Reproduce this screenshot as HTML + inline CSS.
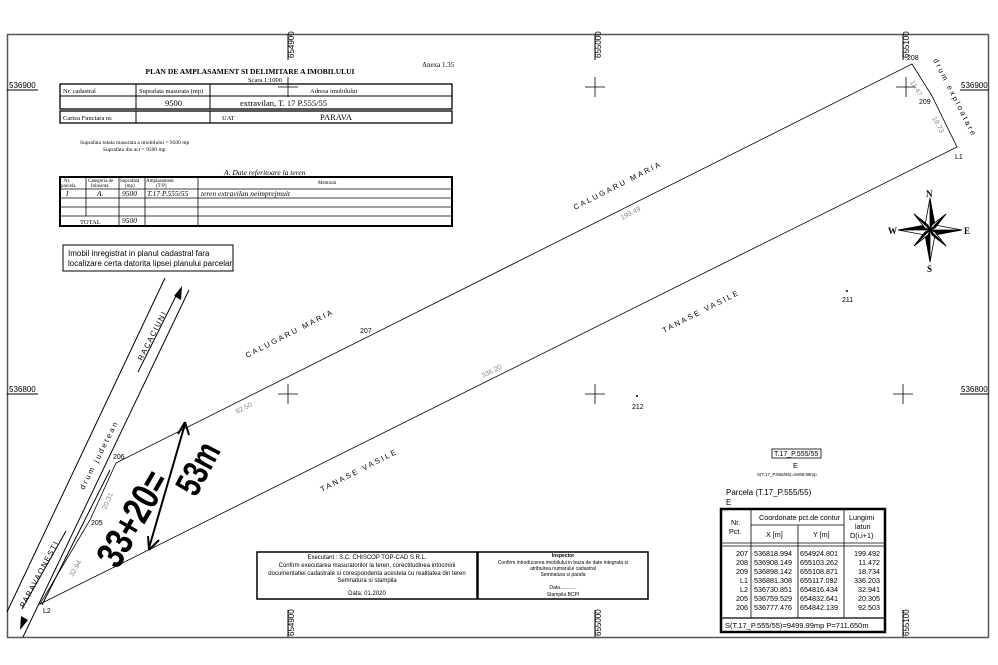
<!DOCTYPE html>
<html><head><meta charset="utf-8"><style>
html,body{margin:0;padding:0;background:#fff;}
svg{display:block;font-family:"Liberation Sans",sans-serif;}
.s{font-family:"Liberation Serif",serif;}
</style></head><body>
<svg width="998" height="665" viewBox="0 0 998 665" xmlns="http://www.w3.org/2000/svg">
<rect x="0" y="0" width="998" height="665" fill="#fff"/>
<rect x="7.5" y="34.5" width="981" height="603" fill="none" stroke="#555" stroke-width="1.5"/>
<g stroke="#000" stroke-width="1">
<line x1="288" y1="34" x2="288" y2="60"/><line x1="595" y1="34" x2="595" y2="60"/><line x1="903" y1="34" x2="903" y2="60"/>
<line x1="288" y1="610" x2="288" y2="637"/><line x1="595" y1="610" x2="595" y2="637"/><line x1="903" y1="610" x2="903" y2="637"/>
<line x1="7" y1="90" x2="38" y2="90"/><line x1="7" y1="394" x2="38" y2="394"/>
<line x1="960" y1="90" x2="989" y2="90"/><line x1="960" y1="394" x2="989" y2="394"/>
</g>
<g stroke="#000" stroke-width="0.8">
<path d="M278 87h20M288 77v20"/><path d="M585 87h20M595 77v20"/><path d="M896 87h20M906 77v20"/>
<path d="M278 394h20M288 384v20"/><path d="M585 394h20M595 384v20"/><path d="M893 394h20M903 384v20"/>
</g>
<g font-size="8" fill="#000">
<text x="9" y="88">536900</text><text x="9" y="392">536800</text>
<text x="961" y="88">536900</text><text x="961" y="392">536800</text>
<text transform="translate(294,58) rotate(-90)">654900</text>
<text transform="translate(601,58) rotate(-90)">655000</text>
<text transform="translate(909,58) rotate(-90)">655100</text>
<text transform="translate(294,636) rotate(-90)">654900</text>
<text transform="translate(601,636) rotate(-90)">655000</text>
<text transform="translate(909,636) rotate(-90)">655100</text>
</g>
<g class="s" fill="#000">
<text x="422" y="67" font-size="7">Anexa 1.35</text>
<text x="250" y="74" font-size="7.5" font-weight="bold" text-anchor="middle">PLAN DE AMPLASAMENT SI DELIMITARE A IMOBILULUI</text>
<text x="265" y="82" font-size="6.5" text-anchor="middle">Scara 1:1000</text>
</g>
<g stroke="#000" fill="none" stroke-width="1">
<rect x="60" y="84" width="392" height="25" stroke-width="1.3"/>
<line x1="60" y1="96" x2="452" y2="96"/>
<line x1="136" y1="84" x2="136" y2="109"/><line x1="210" y1="84" x2="210" y2="109"/>
<rect x="60" y="111" width="392" height="12" stroke-width="1.3"/>
<line x1="136" y1="111" x2="136" y2="123"/><line x1="210" y1="111" x2="210" y2="123"/>
</g>
<g class="s" fill="#000" font-size="6.5">
<text x="63" y="93">Nr. cadastral</text><text x="139" y="93">Suprafata masurata (mp)</text><text x="310" y="93">Adresa imobilului</text>
<text x="165" y="106" font-size="8.5">9500</text><text x="240" y="106" font-size="8.5">extravilan, T. 17  P.555/55</text>
<text x="63" y="120">Cartea Funciara nr.</text><text x="222" y="120">UAT</text><text x="320" y="120" font-size="8.5">PARAVA</text>
<text x="80" y="144" font-size="5.5">Suprafata totala masurata a imobilului = 9500 mp</text>
<text x="103" y="151" font-size="5.5">Suprafata din act = 9500 mp</text>
<text x="224" y="175" font-size="7.5" font-style="italic">A. Date referitoare la teren</text>
</g>
<g stroke="#000" fill="none" stroke-width="0.8">
<rect x="60" y="177" width="392" height="49" stroke-width="2"/>
<line x1="60" y1="189" x2="452" y2="189"/><line x1="60" y1="198" x2="452" y2="198"/>
<line x1="60" y1="207" x2="452" y2="207"/><line x1="60" y1="216" x2="452" y2="216"/>
<line x1="86" y1="177" x2="86" y2="216"/><line x1="119" y1="177" x2="119" y2="226"/>
<line x1="145" y1="177" x2="145" y2="226"/><line x1="198" y1="177" x2="198" y2="226"/>
</g>
<g class="s" fill="#000" font-size="5">
<text x="64" y="182">Nr.</text><text x="61" y="187">parcela</text>
<text x="88" y="182">Categoria de</text><text x="91" y="187">folosinta</text>
<text x="120" y="182">Suprafata</text><text x="125" y="187">(mp)</text>
<text x="146" y="182">Amplasament</text><text x="156" y="187">(T/P)</text>
<text x="318" y="184">Mentiuni</text>
<g font-style="italic" font-size="7.5"><text x="66" y="196">I</text><text x="97" y="196">A.</text><text x="122" y="196">9500</text><text x="147" y="196">T.17 P.555/55</text><text x="201" y="196">teren extravilan neimprejmuit</text><text x="122" y="223">9500</text></g>
<text x="80" y="224" font-size="6.5">TOTAL</text>
</g>
<rect x="63" y="245" width="170" height="26" fill="none" stroke="#000" stroke-width="1"/>
<text x="68" y="256" font-size="8">Imobil inregistrat in planul cadastral fara</text>
<text x="68" y="266" font-size="8">localizare certa datorita lipsei planului parcelar</text>
<g stroke="#000" stroke-width="1" fill="none">
<line x1="165" y1="278" x2="7" y2="612"/>
<line x1="189" y1="290" x2="23" y2="637"/>
<line x1="138" y1="372" x2="178" y2="292"/>
<line x1="22" y1="609" x2="66" y2="531"/>
<line x1="42" y1="605" x2="110" y2="470"/>
</g>
<path d="M182 286 l-1 14 l-7 -4z" fill="#000"/>
<path d="M20 630 l1 -14 l7 4z" fill="#000"/>
<g stroke="#000" stroke-width="0.8" fill="none">
<polyline points="116,463 912,64 932,96 957,147 40,604 90,520 116,463"/>
</g>
<g font-size="7" fill="#000">
<text x="907" y="60">208</text><text x="919" y="104">209</text><text x="955" y="159">L1</text>
<text x="43" y="613">L2</text><text x="91" y="525">205</text><text x="113" y="459">206</text><text x="360" y="333">207</text>
<text x="842" y="302">211</text><text x="632" y="409">212</text>
</g>
<circle cx="847" cy="291" r="1" fill="#000"/><circle cx="637" cy="396" r="1" fill="#000"/>
<g font-size="7" fill="#888">
<text transform="translate(237,414) rotate(-27)">92.50</text>
<text transform="translate(622,220) rotate(-27)">199.49</text>
<text transform="translate(483,378) rotate(-27)">336.20</text>
<text transform="translate(910,82) rotate(60)">11.47</text>
<text transform="translate(932,118) rotate(62)">18.73</text>
<text transform="translate(106,510) rotate(-66)">20.31</text>
<text transform="translate(73,577) rotate(-60)">32.94</text>
</g>
<g font-size="7.5" fill="#000" letter-spacing="2.2">
<text transform="translate(247,358) rotate(-27)">CALUGARU MARIA</text>
<text transform="translate(575,210) rotate(-27)">CALUGARU MARIA</text>
<text transform="translate(322,492) rotate(-27)">TANASE VASILE</text>
<text transform="translate(664,333) rotate(-27)">TANASE VASILE</text>
<text transform="translate(933,60) rotate(63)">drum exploatare</text>
<text transform="translate(84,490) rotate(-63)">drum judetean</text>
<text transform="translate(142,361) rotate(-63)" letter-spacing="1.5">RACACIUNI</text>
<text transform="translate(24,608) rotate(-62)" letter-spacing="1.5">PARAVAONESTI</text>
</g>
<g fill="#000" font-weight="bold" font-family="'Liberation Sans',sans-serif">
<text transform="translate(118,570) rotate(-60) scale(0.9,1.15)" font-size="34">33+20=</text>
<text transform="translate(196,498) rotate(-62) scale(0.9,1.2)" font-size="30">53m</text>
</g>
<line x1="185" y1="424" x2="149" y2="548" stroke="#000" stroke-width="2"/>
<path d="M185 422 l-7 12 M185 422 l4 13 M149 550 l-1 -14 M149 550 l10 -10" stroke="#000" stroke-width="2" fill="none"/>
<g transform="translate(930,230)" fill="#000" stroke="#000" stroke-width="0.8">
<path d="M0 -32 L5 -5 L0 0z" /><path d="M0 -32 L-5 -5 L0 0z" fill="#fff"/>
<path d="M32 0 L5 5 L0 0z"/><path d="M32 0 L5 -5 L0 0z" fill="#fff"/>
<path d="M0 32 L-5 5 L0 0z"/><path d="M0 32 L5 5 L0 0z" fill="#fff"/>
<path d="M-32 0 L-5 -5 L0 0z"/><path d="M-32 0 L-5 5 L0 0z" fill="#fff"/>
<path d="M16 -16 L2 -5 L0 0 z" fill="#fff"/><path d="M16 -16 L5 -2 L0 0z"/>
<path d="M-16 -16 L-2 -5 L0 0z"/><path d="M-16 -16 L-5 -2 L0 0z" fill="#fff"/>
<path d="M16 16 L5 2 L0 0z" fill="#fff"/><path d="M16 16 L2 5 L0 0z"/>
<path d="M-16 16 L-5 2 L0 0z"/><path d="M-16 16 L-2 5 L0 0z" fill="#fff"/>
</g>
<g class="s" font-size="9" font-weight="bold" fill="#000">
<text x="926" y="197">N</text><text x="888" y="234">W</text><text x="964" y="234">E</text><text x="927" y="272">S</text>
</g>
<rect x="257" y="552" width="220" height="47" fill="none" stroke="#000" stroke-width="1.5"/>
<rect x="478" y="552" width="170" height="47" fill="none" stroke="#000" stroke-width="1.5"/>
<g font-size="6" fill="#000" text-anchor="middle">
<text x="367" y="559">Executant : S.C. CHISCOP TOP-CAD S.R.L.</text>
<text x="367" y="567">Confirm executarea masuratorilor la teren, corectitudinea intocmirii</text>
<text x="367" y="575">documentatiei cadastrale si corespondenta acesteia cu realitatea din teren</text>
<text x="367" y="582">Semnatura si stampila</text>
<text x="367" y="595">Data: 01.2020</text>
<g font-size="5"><text x="563" y="557" font-weight="bold">Inspector</text>
<text x="563" y="564">Confirm introducerea imobilului in baza de date integrata si</text>
<text x="563" y="570">atribuirea numarului cadastral</text><text x="563" y="576">Semnatura si parafa</text>
<text x="563" y="589">Data............</text><text x="563" y="596">Stampila BCPI</text></g>
</g>
<rect x="772" y="449" width="49" height="9" fill="none" stroke="#000" stroke-width="0.8"/>
<g font-size="7" fill="#000">
<text x="774" y="456">T.17_P.555/55</text>
<text x="793" y="468">E</text>
<text x="757" y="476" font-size="4.5">S(T.17_P.555/55)=9499.99mp</text>
<text x="726" y="495" font-size="8">Parcela (T.17_P.555/55)</text>
<text x="726" y="505" font-size="8">E</text>
</g>
<g stroke="#000" fill="none" stroke-width="0.8">
<rect x="721" y="509" width="164" height="123" stroke-width="2.5"/>
<line x1="721" y1="543" x2="885" y2="543"/><line x1="721" y1="546" x2="885" y2="546"/>
<line x1="721" y1="618" x2="885" y2="618" stroke-width="1.3"/>
<line x1="751" y1="509" x2="751" y2="618"/><line x1="798" y1="525" x2="798" y2="618"/>
<line x1="844" y1="509" x2="844" y2="618"/><line x1="751" y1="525" x2="844" y2="525"/>
</g>
<g font-size="7.2" fill="#000">
<text x="759" y="520">Coordonate pct.de contur</text>
<text x="731" y="525">Nr.</text><text x="729" y="534">Pct.</text>
<text x="766" y="537">X [m]</text><text x="813" y="537">Y [m]</text>
<text x="849" y="520">Lungimi</text><text x="855" y="529">laturi</text><text x="850" y="538">D(i,i+1)</text>
<g text-anchor="end"><text x="748" y="556">207</text><text x="748" y="565">208</text><text x="748" y="574">209</text><text x="748" y="583">L1</text><text x="748" y="592">L2</text><text x="748" y="601">205</text><text x="748" y="610">206</text>
<text x="880" y="556">199.492</text><text x="880" y="565">11.472</text><text x="880" y="574">18.734</text><text x="880" y="583">336.203</text><text x="880" y="592">32.941</text><text x="880" y="601">20.305</text><text x="880" y="610">92.503</text></g>
<text x="754" y="556">536818.994</text><text x="754" y="565">536908.149</text><text x="754" y="574">536898.142</text><text x="754" y="583">536881.308</text><text x="754" y="592">536730.851</text><text x="754" y="601">536759.529</text><text x="754" y="610">536777.476</text>
<text x="800" y="556">654924.801</text><text x="800" y="565">655103.262</text><text x="800" y="574">655108.871</text><text x="800" y="583">655117.092</text><text x="800" y="592">654816.434</text><text x="800" y="601">654832.641</text><text x="800" y="610">654842.139</text>
<text x="725" y="628" font-size="7.5">S(T.17_P.555/55)=9499.99mp  P=711.650m</text>
</g>
</svg>
</body></html>
